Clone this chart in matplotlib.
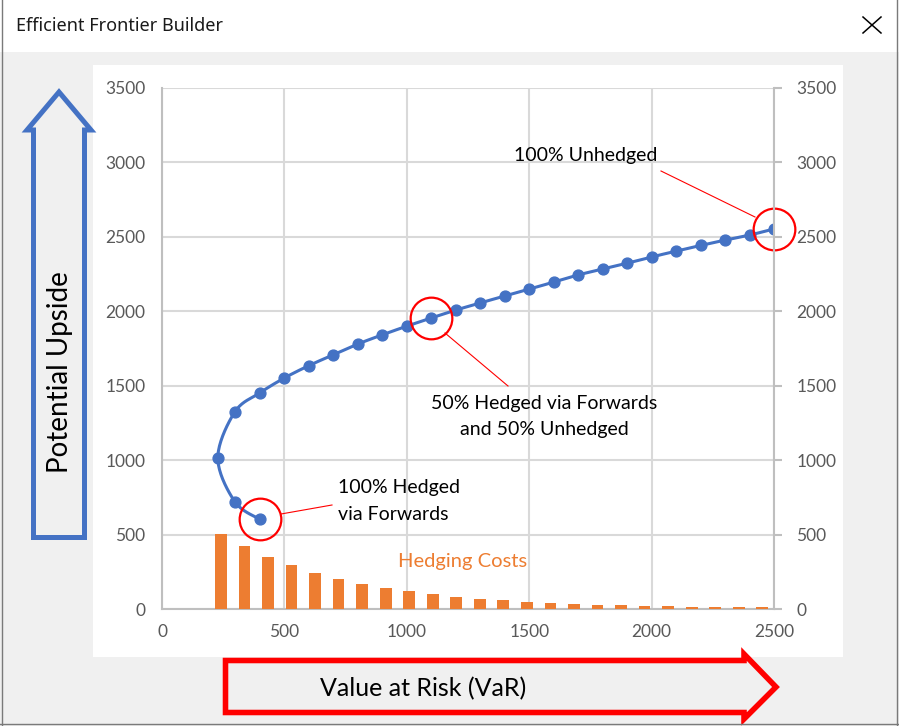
import numpy as np
import matplotlib
matplotlib.use("Agg")
import matplotlib.pyplot as plt
from matplotlib.patches import Rectangle, Polygon
from matplotlib.lines import Line2D

# efficient frontier points (VaR vs potential upside)
var_risk = [400, 298, 228, 298, 400, 500, 600, 700, 800, 900, 1000, 1100, 1200,
            1300, 1400, 1500, 1600, 1700, 1800, 1900, 2000, 2100, 2200, 2300, 2400, 2500]
upside = [602, 720, 1015, 1325, 1452, 1552, 1635, 1708, 1780, 1842, 1900, 1955, 2008,
          2056, 2103, 2149, 2196, 2244, 2284, 2323, 2365, 2404, 2442, 2478, 2512, 2553]
# hedging cost per frontier point (secondary category axis)
hedging_costs = [0, 0, 505, 420, 350, 295, 242, 200, 168, 141, 120, 100, 82, 67,
                 60, 47, 40, 33, 27, 27, 20, 20, 14, 13, 12, 12]

x_ticks = [0, 500, 1000, 1500, 2000, 2500]
y_ticks = [0, 500, 1000, 1500, 2000, 2500, 3000, 3500]

W, H = 899, 726
BLUE = "#4472C4"
ORANGE = "#ED7D31"
FONT = "Lato"


def fx(px):
    return px / W


def fy(py):
    return 1 - py / H


def smooth(xs, ys, n=20):
    # catmull-rom style smoothing like excel's smoothed line
    pts = np.column_stack([xs, ys]).astype(float)
    p = np.vstack([pts[0], pts, pts[-1]])
    out = []
    for i in range(1, len(p) - 2):
        p0, p1, p2, p3 = p[i - 1], p[i], p[i + 1], p[i + 2]
        t = np.linspace(0, 1, n, endpoint=False)[:, None]
        seg = 0.5 * ((2 * p1) + (-p0 + p2) * t + (2 * p0 - 5 * p1 + 4 * p2 - p3) * t ** 2
                     + (-p0 + 3 * p1 - 3 * p2 + p3) * t ** 3)
        out.append(seg)
    out.append(pts[-1:])
    out = np.vstack(out)
    return out[:, 0], out[:, 1]


fig = plt.figure(figsize=(W / 100, H / 100), dpi=100)
fig.patch.set_facecolor("#F0F0F0")

# window chrome
fig.patches.append(Rectangle((0, fy(52)), 1, 1 - fy(52), transform=fig.transFigure,
                             facecolor="white", edgecolor="none", zorder=0))
fig.patches.append(Rectangle((fx(93), fy(657)), fx(843) - fx(93), fy(65) - fy(657),
                             transform=fig.transFigure, facecolor="white",
                             edgecolor="none", zorder=0))
fig.lines.append(Line2D([fx(2), fx(2)], [0, 1], transform=fig.transFigure, color="#7A7A7A", lw=1))
fig.lines.append(Line2D([fx(897), fx(897)], [0, 1], transform=fig.transFigure, color="#7A7A7A", lw=1))
fig.lines.append(Line2D([0, 1], [fy(724), fy(724)], transform=fig.transFigure, color="#7A7A7A", lw=1))
fig.text(fx(16), fy(26), "Efficient Frontier Builder", fontsize=13, family="Noto Sans",
         color="#1a1a1a", va="center", ha="left")
fig.lines.append(Line2D([fx(863), fx(881)], [fy(17), fy(33)], transform=fig.transFigure, color="black", lw=1.1))
fig.lines.append(Line2D([fx(863), fx(881)], [fy(33), fy(17)], transform=fig.transFigure, color="black", lw=1.1))

rect = [fx(162), fy(609), fx(774) - fx(162), fy(88) - fy(609)]

# primary value axes: grid + frontier line
ax = fig.add_axes(rect, zorder=1)
ax.set_facecolor("white")
ax.set_xlim(0, 2500)
ax.set_ylim(0, 3500)
ax.set_xticks(x_ticks)
ax.set_yticks(y_ticks)
ax.grid(True, color="#D9D9D9", lw=1.5)
ax.set_axisbelow(True)
for s in ["top", "right"]:
    ax.spines[s].set_visible(False)
for s in ["left", "bottom"]:
    ax.spines[s].set_color("#BFBFBF")
    ax.spines[s].set_linewidth(1.5)
ax.tick_params(length=0, labelsize=12.5, labelcolor="#595959")
ax.tick_params(axis="y", pad=12)
ax.tick_params(axis="x", pad=11)
for lab in ax.get_xticklabels() + ax.get_yticklabels():
    lab.set_family(FONT)

sx, sy = smooth(var_risk, upside)
ax.plot(sx, sy, color=BLUE, lw=2.2, zorder=3)
ax.plot(var_risk, upside, "o", color=BLUE, ms=7.8, zorder=4)

# highlighted points
for i in [0, 11, len(var_risk) - 1]:
    ax.plot(var_risk[i], upside[i], "o", ms=30, mfc="none", mec="red", mew=1.6,
            zorder=5, clip_on=False)

# secondary category axes: hedging cost bars
axb = fig.add_axes(rect, zorder=2)
axb.patch.set_visible(False)
axb.bar(range(len(hedging_costs)), hedging_costs, width=0.5, color=ORANGE)
axb.set_xlim(-0.5, len(hedging_costs) - 0.5)
axb.set_ylim(0, 3500)
axb.set_xticks([])
axb.set_yticks(y_ticks)
axb.yaxis.tick_right()
for s in ["top", "left", "bottom"]:
    axb.spines[s].set_visible(False)
axb.spines["right"].set_color("#BFBFBF")
axb.spines["right"].set_linewidth(1.5)
axb.tick_params(axis="y", length=6, width=1.5, color="#BFBFBF", direction="out",
                labelsize=12.5, labelcolor="#595959", pad=10)
for lab in axb.get_yticklabels():
    lab.set_family(FONT)

# annotations
lbl = dict(fontsize=14, family=FONT, color="black")
fig.text(fx(338), fy(487), "100% Hedged", ha="left", va="center", **lbl)
fig.text(fx(338), fy(515), "via Forwards", ha="left", va="center", **lbl)
fig.text(fx(544), fy(403), "50% Hedged via Forwards", ha="center", va="center", **lbl)
fig.text(fx(544), fy(429), "and 50% Unhedged", ha="center", va="center", **lbl)
fig.text(fx(586), fy(155), "100% Unhedged", ha="center", va="center", **lbl)
fig.text(fx(463), fy(561), "Hedging Costs", ha="center", va="center", fontsize=14.5,
         family=FONT, color=ORANGE)

for (x0, y0), (x1, y1) in [((281, 514), (332, 505)), ((445, 333), (508, 386)),
                           ((661, 171), (755, 217))]:
    fig.lines.append(Line2D([fx(x0), fx(x1)], [fy(y0), fy(y1)], transform=fig.transFigure,
                            color="red", lw=0.8, zorder=10))

# big outline arrows
up_arrow = [(59, 92), (91, 130), (84.5, 130), (84.5, 537.5), (33.5, 537.5), (33.5, 130), (27, 130)]
fig.patches.append(Polygon([(fx(a), fy(b)) for a, b in up_arrow], closed=True,
                           transform=fig.transFigure, facecolor="none", edgecolor=BLUE,
                           lw=3.6, joinstyle="miter"))
fig.text(fx(60), fy(372), "Potential Upside", rotation=90, ha="center", va="center",
         fontsize=20, family=FONT, color="black")

right_arrow = [(225.5, 660.5), (744, 660.5), (744, 654), (776, 687), (744, 719),
               (744, 712.5), (225.5, 712.5)]
fig.patches.append(Polygon([(fx(a), fy(b)) for a, b in right_arrow], closed=True,
                           transform=fig.transFigure, facecolor="none", edgecolor="red",
                           lw=4, joinstyle="miter"))
fig.text(fx(423), fy(689), "Value at Risk (VaR)", ha="center", va="center",
         fontsize=18, family=FONT, color="black")

fig.savefig("out.png", dpi=100)
